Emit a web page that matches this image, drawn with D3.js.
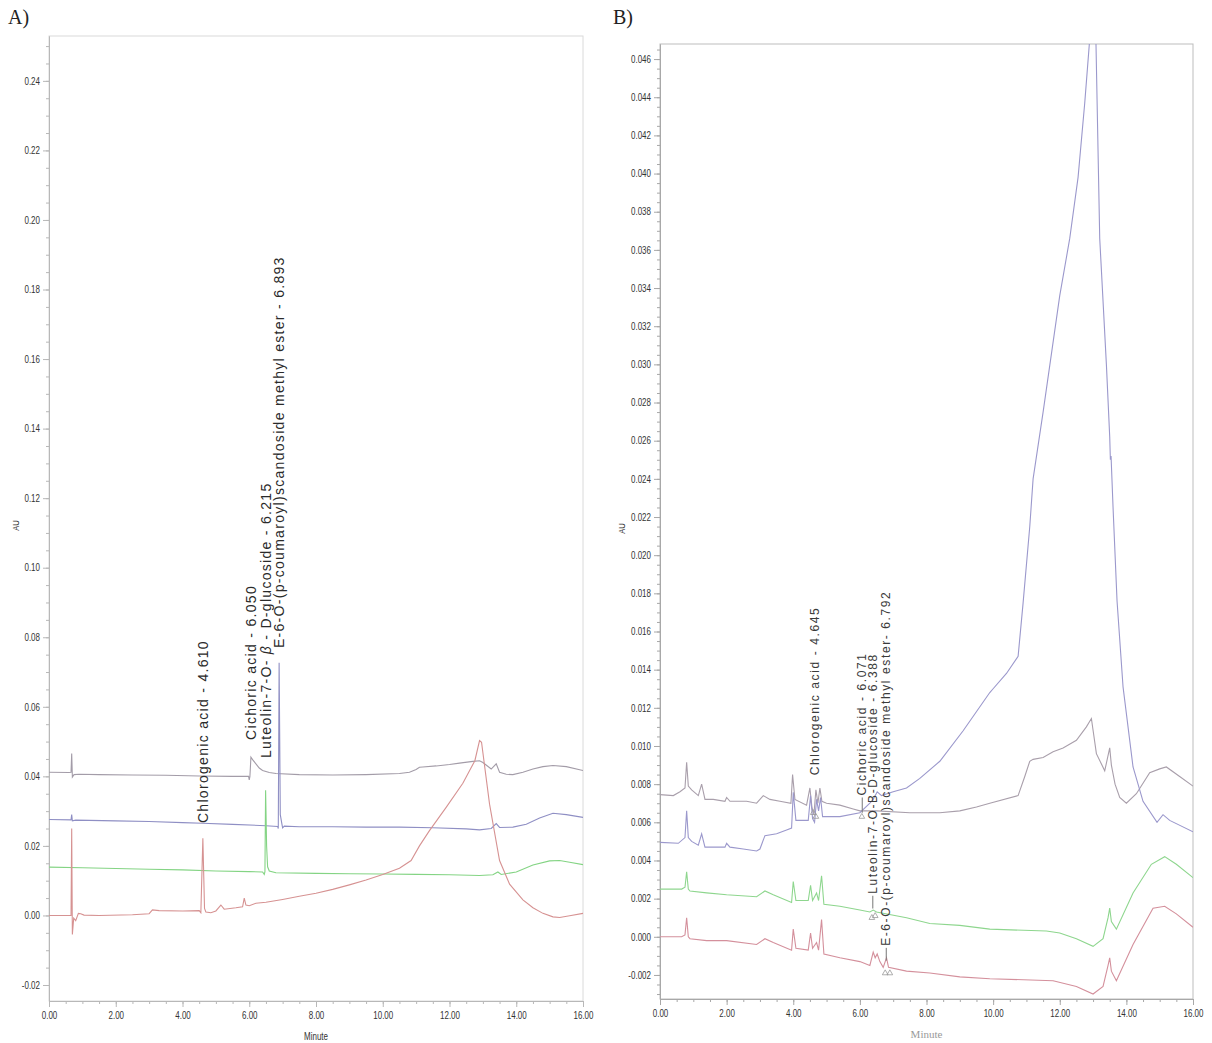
<!DOCTYPE html>
<html>
<head>
<meta charset="utf-8">
<script src="https://cdnjs.cloudflare.com/ajax/libs/d3/7.8.5/d3.min.js"></script>
<style>
body { margin: 0; background: #fff; }
svg { display: block; }
.tick text { font-family: "Liberation Sans Narrow", "Liberation Sans", Arial, sans-serif; font-size: 10px; fill: #333; }
</style>
</head>
<body>
<div id="chart"></div>
<script>
// ---- data: [minute, AU] ----
var xTicks = [0, 2, 4, 6, 8, 10, 12, 14, 16];
var aYTicks = [-0.02, 0, 0.02, 0.04, 0.06, 0.08, 0.10, 0.12, 0.14, 0.16, 0.18, 0.20, 0.22, 0.24];
var bYTicks = [-0.002, 0, 0.002, 0.004, 0.006, 0.008, 0.010, 0.012, 0.014, 0.016, 0.018, 0.020, 0.022,
               0.024, 0.026, 0.028, 0.030, 0.032, 0.034, 0.036, 0.038, 0.040, 0.042, 0.044, 0.046];

// panel A
var aGray = [[0,0.0412],[0.6,0.0411],[0.66,0.0412],[0.68,0.0466],[0.70,0.0398],[0.75,0.0405],[0.9,0.0406],
  [1.5,0.0405],[2.5,0.0404],[3.5,0.0403],[4.5,0.0401],[5.5,0.0400],[5.98,0.0400],[6.0,0.0390],[6.02,0.0400],
  [6.05,0.0455],[6.1,0.0448],[6.2,0.0436],[6.3,0.0424],[6.4,0.0417],[6.6,0.0411],[6.8,0.0408],[7.5,0.0405],
  [8.5,0.0404],[9.5,0.0405],[10.5,0.0408],[10.8,0.0412],[11.0,0.0420],[11.1,0.0426],[11.2,0.0427],[11.6,0.0430],
  [12.0,0.0434],[12.3,0.0438],[12.7,0.0443],[12.9,0.0445],[13.0,0.0440],[13.25,0.0421],[13.4,0.0436],[13.5,0.0412],
  [13.7,0.0406],[13.9,0.0405],[14.2,0.0412],[14.5,0.0421],[14.8,0.0428],[15.1,0.0431],[15.5,0.0428],[16,0.0417]];
var aBlue = [[0,0.0276],[0.66,0.0275],[0.68,0.0290],[0.70,0.0272],[0.8,0.0274],[2,0.0272],[3,0.0270],[4,0.0267],
  [4.6,0.0265],[5.5,0.0262],[6.5,0.0258],[6.85,0.0256],[6.87,0.0250],[6.895,0.0727],[6.93,0.0290],[6.98,0.0262],
  [7.0,0.0252],[7.05,0.0257],[7.5,0.0255],[8.5,0.0255],[9.5,0.0254],[10.5,0.0254],[11.5,0.0252],[12.5,0.0249],
  [12.9,0.0246],[13.25,0.0250],[13.4,0.0264],[13.5,0.0253],[13.9,0.0254],[14.3,0.0262],[14.7,0.0280],
  [15.1,0.0294],[15.5,0.0290],[16,0.0282]];
var aGreen = [[0,0.0139],[1,0.0137],[2,0.0135],[3,0.0133],[4,0.0131],[5,0.0128],[6,0.0126],[6.4,0.0125],
  [6.45,0.0118],[6.47,0.0126],[6.49,0.0360],[6.52,0.0200],[6.55,0.0140],[6.6,0.0128],[6.8,0.0123],[8,0.0121],
  [9,0.0120],[10,0.0119],[11,0.0118],[12,0.0117],[12.9,0.0115],[13.3,0.0117],[13.45,0.0125],[13.55,0.0118],
  [14.0,0.0125],[14.5,0.0145],[15.0,0.0157],[15.3,0.0158],[15.6,0.0153],[16,0.0146]];
var aRed = [[0,0.0],[0.66,0.0],[0.68,0.0250],[0.70,-0.0055],[0.74,-0.0008],[0.8,-0.0015],[0.88,0.0006],
  [0.95,0.0005],[1.05,0.0001],[1.5,0.0],[2.5,0.0002],[3.0,0.0005],[3.1,0.0016],[3.3,0.0014],[4.0,0.0013],
  [4.5,0.0014],[4.55,0.0008],[4.61,0.0222],[4.66,0.0020],[4.7,0.0010],[4.85,0.0008],[5.0,0.0013],[5.15,0.0030],
  [5.25,0.0018],[5.6,0.0022],[5.8,0.0025],[5.85,0.0050],[5.9,0.0030],[6.0,0.0028],[6.2,0.0035],[6.5,0.0038],
  [7.0,0.0046],[7.5,0.0055],[8.0,0.0064],[8.5,0.0075],[9.0,0.0088],[9.5,0.0102],[10.0,0.0118],[10.5,0.0136],
  [10.85,0.0158],[11.1,0.0200],[11.4,0.0244],[11.9,0.0311],[12.4,0.0380],[12.76,0.0445],[12.9,0.0503],
  [12.96,0.0498],[13.2,0.0320],[13.5,0.0158],[13.8,0.0090],[14.2,0.0045],[14.5,0.0022],[14.8,0.0006],
  [15.1,-0.0004],[15.3,-0.0006],[15.6,-0.0001],[16,0.0006]];

// panel B
var bGray = [[0,0.00745],[0.4,0.0074],[0.6,0.0076],[0.75,0.0078],[0.8,0.00915],[0.85,0.0079],[0.95,0.0077],
  [1.15,0.0074],[1.25,0.0080],[1.35,0.0072],[1.6,0.0072],[1.95,0.0071],[2.0,0.0073],[2.1,0.0071],[2.6,0.0071],
  [2.9,0.0070],[3.1,0.0074],[3.3,0.0072],[3.6,0.0071],[3.93,0.0070],[3.98,0.0085],[4.05,0.0072],[4.4,0.0069],
  [4.5,0.0078],[4.56,0.0068],[4.62,0.0064],[4.68,0.0077],[4.74,0.0070],[4.8,0.0078],[4.86,0.0071],[5.0,0.0070],
  [5.4,0.0069],[5.8,0.0067],[6.0,0.0066],[6.5,0.0066],[7.5,0.0065],[8.4,0.0065],[9.0,0.0066],[9.5,0.0068],
  [9.9,0.0070],[10.75,0.0074],[10.95,0.0084],[11.1,0.0092],[11.2,0.0093],[11.5,0.0094],[11.8,0.0097],
  [12.1,0.0099],[12.5,0.0103],[12.8,0.0110],[12.95,0.01144],[13.1,0.0096],[13.35,0.0087],[13.5,0.0099],
  [13.55,0.0090],[13.66,0.0080],[13.8,0.0073],[14.0,0.0070],[14.3,0.0075],[14.7,0.0086],[15.0,0.0088],
  [15.2,0.0089],[15.6,0.0084],[16,0.0079]];
var bBlue = [[0,0.00495],[0.55,0.0049],[0.75,0.0052],[0.8,0.0066],[0.85,0.0052],[0.95,0.0050],[1.15,0.0048],
  [1.25,0.0054],[1.35,0.0047],[1.6,0.0047],[1.95,0.0047],[2.0,0.0049],[2.1,0.0047],[2.5,0.0046],[2.9,0.0045],
  [3.0,0.0046],[3.15,0.0053],[3.5,0.0054],[3.8,0.0056],[3.95,0.0057],[4.0,0.00757],[4.08,0.0061],[4.45,0.0061],
  [4.52,0.0074],[4.58,0.0062],[4.64,0.0060],[4.7,0.0072],[4.76,0.0066],[4.82,0.0073],[4.88,0.0063],[5.4,0.0063],
  [6.0,0.0065],[6.3,0.0070],[6.4,0.0072],[6.52,0.0076],[6.65,0.0074],[7.0,0.0076],[7.4,0.0078],[7.8,0.0083],
  [8.4,0.0092],[9.1,0.0108],[9.9,0.0128],[10.0,0.0130],[10.4,0.0138],[10.75,0.0147],[10.9,0.0175],
  [11.1,0.0215],[11.2,0.0240],[11.5,0.0275],[12.0,0.0336],[12.3,0.0366],[12.55,0.0398],[12.75,0.0437],
  [12.92,0.0475],[13.0,0.0500],[13.08,0.0475],[13.2,0.0366],[13.4,0.0300],[13.5,0.0262],[13.52,0.0250],
  [13.54,0.0252],[13.6,0.0225],[13.72,0.0176],[13.9,0.0131],[14.2,0.0089],[14.5,0.0071],[14.92,0.0060],
  [15.1,0.0064],[15.3,0.0061],[16,0.0055]];
var bGreen = [[0,0.0025],[0.65,0.0025],[0.75,0.0026],[0.8,0.0034],[0.85,0.0025],[0.9,0.0024],[1.4,0.0023],
  [2.0,0.0022],[2.9,0.0021],[3.15,0.0024],[3.4,0.0022],[3.95,0.0018],[4.0,0.0029],[4.08,0.0019],[4.45,0.0019],
  [4.52,0.0027],[4.58,0.0019],[4.7,0.0023],[4.76,0.0019],[4.85,0.0032],[4.92,0.0017],[5.4,0.0016],[6.0,0.0014],
  [6.3,0.0013],[6.4,0.0014],[6.5,0.0013],[7.4,0.0010],[8.1,0.0007],[9.0,0.0006],[9.9,0.0004],[11.6,0.0003],
  [12.0,0.0002],[12.5,-0.0001],[13.0,-0.0005],[13.3,-0.0001],[13.45,0.0010],[13.5,0.0015],[13.55,0.0008],
  [13.7,0.0004],[14.2,0.0023],[14.75,0.0038],[15.15,0.0042],[15.5,0.0038],[16,0.0031]];
var bRed = [[0,0.0],[0.65,0.0],[0.75,0.0001],[0.8,0.0010],[0.85,0.0],[0.9,-0.0001],[1.4,-0.0002],[2.0,-0.0002],
  [2.9,-0.0004],[3.15,-0.0001],[3.4,-0.0003],[3.95,-0.0007],[4.0,0.0004],[4.08,-0.0006],[4.45,-0.0007],
  [4.52,0.0002],[4.58,-0.0006],[4.7,-0.0003],[4.76,-0.0007],[4.85,0.0009],[4.92,-0.0009],[5.4,-0.0011],
  [6.0,-0.0013],[6.3,-0.0015],[6.4,-0.0008],[6.46,-0.0011],[6.52,-0.0009],[6.6,-0.0013],[6.7,-0.0016],
  [6.8,-0.0011],[6.86,-0.0016],[7.4,-0.0018],[8.1,-0.0019],[9.0,-0.0021],[9.9,-0.0022],[11.8,-0.0023],
  [12.5,-0.0026],[13.0,-0.0030],[13.3,-0.0026],[13.45,-0.0015],[13.5,-0.0011],[13.55,-0.0018],[13.7,-0.0023],
  [14.2,-0.0004],[14.8,0.0015],[15.15,0.0016],[15.5,0.0012],[16,0.0005]];

// peak labels: time where the label stands, AU level where the text starts, AU level of leader end
var aLabels = [
  {text: ["Chlorogenic acid - 4.610"], time: 4.61, base: 0.0260},
  {text: ["Cichoric acid - 6.050"], time: 6.05, base: 0.0499},
  {text: ["Luteolin-7-O- ", "β", " -  D-glucoside - 6.215"], time: 6.49, base: 0.0447},
  {text: ["E-6-O-(p-coumaroyl)scandoside methyl ester - 6.893"], time: 6.90, base: 0.0763}
];
var bLabels = [
  {text: ["Chlorogenic acid - 4.645"], time: 4.645, base: 0.00836},
  {text: ["Cichoric acid - 6.071"], time: 6.071, base: 0.0073, lead: 0.0065},
  {text: ["Luteolin-7-O-B-D-glucoside - 6.388"], time: 6.388, base: 0.00215, lead: 0.00148},
  {text: ["E-6-O-(p-coumaroyl)scandoside methyl ester- 6.792"], time: 6.792, base: -0.00058, lead: -0.00125}
];
var bMarks = [[4.6,0.0066],[4.68,0.0064],[6.06,0.0064],[6.36,0.0011],[6.46,0.0012],[6.76,-0.0018],[6.9,-0.0018]];

var W = 1212, H = 1043;
var svg = d3.select("#chart").append("svg")
    .attr("width", W)
    .attr("height", H);
svg.append("rect").attr("width", W).attr("height", H).attr("fill", "#fff");

// tick labels in the picture use a condensed face and a plain hyphen
function fmt(spec) {
  var f = d3.format(spec);
  return function(d) { return f(d).replace("\u2212", "-"); };
}
function narrow(sel, dx) {
  sel.selectAll(".tick text").each(function() {
    var t = d3.select(this);
    var x0 = +t.attr("x") || 0;
    t.attr("x", 0).attr("transform", "translate(" + x0 + ",0) scale(0.8,1)");
  });
}

function drawPanel(p) {
  var x = d3.scaleLinear().domain([0, 16]).range([p.left, p.right]);
  var y = d3.scaleLinear().domain(p.yDomain).range([p.bottom, p.top]);
  var g = svg.append("g");

  g.append("clipPath").attr("id", p.id + "-clip")
    .append("rect")
      .attr("x", p.left).attr("y", p.top)
      .attr("width", p.right - p.left).attr("height", p.bottom - p.top);

  // frame
  g.append("rect")
      .attr("x", p.left).attr("y", p.top)
      .attr("width", p.right - p.left).attr("height", p.bottom - p.top)
      .attr("fill", "none").attr("stroke", p.frame).attr("stroke-width", 1);

  // y axis: minor then major
  var yMinor = d3.range(p.yDomain[0], p.yDomain[1], p.yStep / 4)
      .map(function(v) { return Math.round(v / (p.yStep / 4)) * (p.yStep / 4); })
      .filter(function(v) { return v >= p.yDomain[0] && v <= p.yDomain[1]; });
  var yMin = g.append("g")
      .attr("transform", "translate(" + p.left + ",0)")
      .call(d3.axisLeft(y).tickValues(yMinor).tickSize(3).tickSizeOuter(0).tickFormat(""));
  var yMaj = g.append("g")
      .attr("transform", "translate(" + p.left + ",0)")
      .call(d3.axisLeft(y).tickValues(p.yTicks).tickSize(6).tickSizeOuter(0).tickFormat(fmt(p.yFormat)));

  // x axis
  var xMinor = d3.range(0, 16.01, 0.5);
  var xMin = g.append("g")
      .attr("transform", "translate(0," + p.bottom + ")")
      .call(d3.axisBottom(x).tickValues(xMinor).tickSize(3).tickSizeOuter(0).tickFormat(""));
  var xMaj = g.append("g")
      .attr("transform", "translate(0," + p.bottom + ")")
      .call(d3.axisBottom(x).tickValues(xTicks).tickSize(6).tickSizeOuter(0).tickPadding(5).tickFormat(fmt(".2f")));

  [yMin, yMaj, xMin, xMaj].forEach(function(a) {
    a.select(".domain").attr("stroke", p.axis);
    a.selectAll(".tick line").attr("stroke", p.axis);
  });
  xMaj.selectAll(".tick text").attr("fill", p.xText);
  narrow(yMaj);
  narrow(xMaj);

  // traces
  var line = d3.line()
      .x(function(d) { return x(d[0]); })
      .y(function(d) { return y(d[1]); });
  p.traces.forEach(function(t) {
    g.append("path")
        .datum(t.data)
        .attr("d", line)
        .attr("fill", "none")
        .attr("stroke", t.color)
        .attr("stroke-width", 1.1)
        .attr("clip-path", "url(#" + p.id + "-clip)");
  });

  // small peak markers
  (p.marks || []).forEach(function(m) {
    g.append("path")
        .attr("d", d3.symbol().type(d3.symbolTriangle).size(14)())
        .attr("transform", "translate(" + x(m[0]) + "," + (y(m[1]) + 2) + ")")
        .attr("fill", "none").attr("stroke", "#999").attr("stroke-width", 0.8);
  });

  // peak labels
  p.labels.forEach(function(l) {
    var tx = x(l.time), ty = y(l.base);
    if (l.lead !== undefined) {
      g.append("line")
          .attr("x1", tx).attr("x2", tx)
          .attr("y1", ty).attr("y2", y(l.lead))
          .attr("stroke", "#777").attr("stroke-width", 1);
    }
    var t = g.append("text")
        .attr("transform", "translate(" + tx + "," + (ty - 2) + ") rotate(-90)")
        .attr("dy", "0.35em")
        .style("font-family", "'Liberation Sans', Arial, sans-serif")
        .style("font-size", p.labelSize + "px")
        .style("letter-spacing", p.labelSpacing + "px")
        .style("fill", p.labelColor);
    l.text.forEach(function(s) {
      var ts = t.append("tspan").text(s);
      if (s === "β") ts.style("font-style", "italic");
    });
  });

  // AU label
  g.append("text")
      .attr("transform", "translate(" + p.auX + "," + ((p.top + p.bottom) / 2 + 7) + ") rotate(-90) scale(0.85,1)")
      .attr("text-anchor", "middle")
      .style("font-family", "'Liberation Sans', Arial, sans-serif")
      .style("font-size", "9px")
      .style("fill", "#333")
      .text("AU");

  // x label
  g.append("text")
      .attr("transform", "translate(" + ((p.left + p.right) / 2) + "," + (p.bottom + 39) + ") scale(" + p.minuteScale + ",1)")
      .attr("text-anchor", "middle")
      .style("font-family", p.minuteFont)
      .style("font-size", p.minuteSize + "px")
      .style("fill", p.minuteColor)
      .text("Minute");

  // panel letter
  svg.append("text")
      .attr("x", p.letterX).attr("y", 24)
      .style("font-family", "'Liberation Serif', 'DejaVu Serif', serif")
      .style("font-size", "20px")
      .style("fill", "#222")
      .text(p.letter);
}

drawPanel({
  id: "a", letter: "A)", letterX: 8,
  left: 49, right: 583, top: 36, bottom: 1001,
  yDomain: [-0.0246, 0.2529], yTicks: aYTicks, yStep: 0.02, yFormat: ".2f",
  frame: "#dadada", axis: "#b8b8b8", xText: "#333",
  traces: [
    {data: aGray, color: "#a39ca8"},
    {data: aBlue, color: "#8f8fc4"},
    {data: aGreen, color: "#84d484"},
    {data: aRed, color: "#d69292"}
  ],
  labels: aLabels, labelSize: 14, labelSpacing: 1.3, labelColor: "#2a2a2a",
  auX: 19, minuteFont: "'Liberation Sans', Arial, sans-serif",
  minuteSize: 10, minuteScale: 0.8, minuteColor: "#333"
});

drawPanel({
  id: "b", letter: "B)", letterX: 613,
  left: 660, right: 1193, top: 44, bottom: 999,
  yDomain: [-0.00326, 0.04679], yTicks: bYTicks, yStep: 0.002, yFormat: ".3f",
  frame: "#bdbdbd", axis: "#a8a8a8", xText: "#444",
  traces: [
    {data: bGray, color: "#a99fab"},
    {data: bBlue, color: "#9b98cc"},
    {data: bGreen, color: "#8ed68e"},
    {data: bRed, color: "#d4909c"}
  ],
  marks: bMarks,
  labels: bLabels, labelSize: 12, labelSpacing: 1.6, labelColor: "#3a3a3a",
  auX: 625, minuteFont: "'Liberation Serif', 'DejaVu Serif', serif",
  minuteSize: 11, minuteScale: 1, minuteColor: "#999"
});
</script>
</body>
</html>
